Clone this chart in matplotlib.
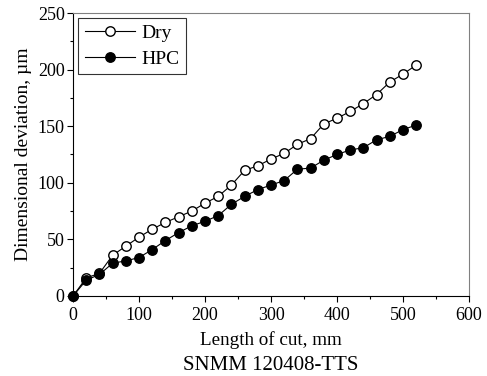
import matplotlib
matplotlib.use("Agg")
import matplotlib.pyplot as plt
from matplotlib.ticker import MultipleLocator

plt.rcParams['font.family'] = ['Liberation Serif', 'DejaVu Serif']

length = list(range(0, 521, 20))
dry = [0, 16, 20, 36, 44, 52, 59, 65, 70, 75, 82, 88, 98, 111, 115, 121, 126,
       134, 139, 152, 157, 163, 170, 178, 189, 196, 204]
hpc = [0, 14, 19, 29, 31, 34, 41, 49, 56, 62, 66, 71, 81, 88, 94, 98, 102,
       112, 113, 120, 125, 129, 131, 138, 141, 147, 151]

fig = plt.figure(figsize=(4.87, 3.76), dpi=100)
ax = fig.add_axes([0.150, 0.2128, 0.813, 0.7526])

ax.plot(length, dry, '-o', color='black', lw=0.8, ms=6.8, mfc='white',
        mec='black', mew=1.0, label='Dry', clip_on=False, zorder=3)
ax.plot(length, hpc, '-o', color='black', lw=0.8, ms=6.8, mfc='black',
        mec='black', label='HPC', clip_on=False, zorder=3)

ax.set_xlim(0, 600)
ax.set_ylim(0, 250)
ax.xaxis.set_major_locator(MultipleLocator(100))
ax.xaxis.set_minor_locator(MultipleLocator(50))
ax.yaxis.set_major_locator(MultipleLocator(50))
ax.yaxis.set_minor_locator(MultipleLocator(25))
ax.tick_params(which='both', direction='out', top=False, right=False,
               labelsize=13, width=0.8)
ax.tick_params(axis='x', which='major', length=4, pad=4)
ax.tick_params(axis='y', which='major', length=4, pad=2)
ax.tick_params(which='minor', length=2.5)
for s in ['top', 'right']:
    ax.spines[s].set_color('#808080')
for s in ['left', 'bottom']:
    ax.spines[s].set_color('black')

ax.set_xlabel('Length of cut, mm', fontsize=13.7, labelpad=5)
ax.set_ylabel('Dimensional deviation, µm', fontsize=14, labelpad=4)

leg = ax.legend(loc='upper left', fontsize=14, frameon=True, fancybox=False,
                edgecolor='black', borderaxespad=0.25, handlelength=2.6,
                handletextpad=0.3, borderpad=0.35, labelspacing=0.4)
leg.get_frame().set_linewidth(0.8)

fig.text(0.556, 0.028, 'SNMM 120408-TTS', ha='center', va='center', fontsize=15)

fig.savefig('out.png', dpi=100)
